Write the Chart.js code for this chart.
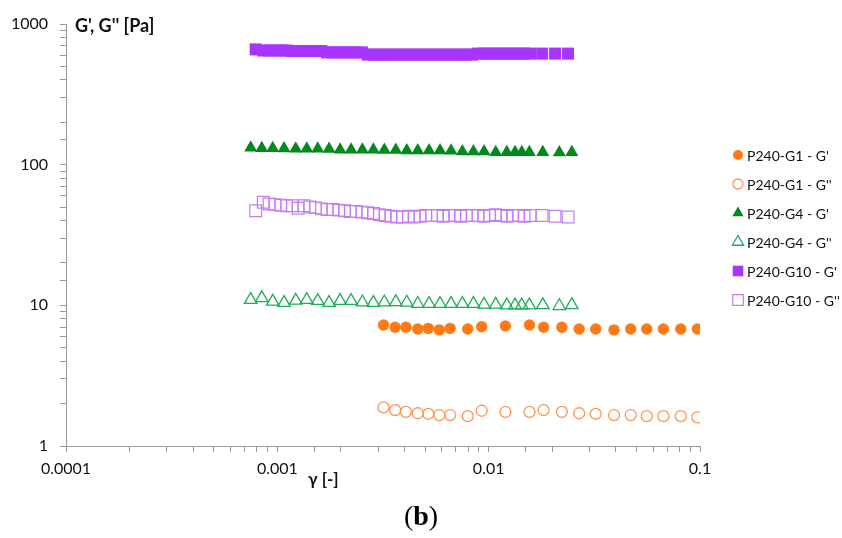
<!DOCTYPE html>
<html>
<head>
<meta charset="utf-8">
<script src="https://cdn.jsdelivr.net/npm/chart.js"></script>
<style>
  html, body { margin: 0; padding: 0; background: #fff; }
  #wrap { width: 842px; height: 538px; position: relative; }
</style>
</head>
<body>
<div id="wrap"><canvas id="mainChart"></canvas></div>
<script>
// strain sweep: G' and G'' vs strain amplitude, log-log

const seriesLabels = ["P240-G1 - G'", "P240-G1 - G''", "P240-G4 - G'", "P240-G4 - G''", "P240-G10 - G'", "P240-G10 - G''"];
const xTickLabels = ['0.0001', '0.001', '0.01', '0.1'];
const yTickLabels = ['1', '10', '100', '1000'];

// P240-G1
const xG1 = [0.00318, 0.00361, 0.00406, 0.00462, 0.00518, 0.00584, 0.00657, 0.00796, 0.00927, 0.0120,
  0.0156, 0.0182, 0.0222, 0.0268, 0.0321, 0.0392, 0.0470, 0.0560, 0.0671, 0.0811, 0.0972];
const g1Storage = [7.24, 6.98, 6.98, 6.79, 6.86, 6.69, 6.86, 6.79, 7.05, 7.13,
  7.24, 6.98, 6.98, 6.79, 6.79, 6.69, 6.79, 6.79, 6.79, 6.79, 6.79];
const g1Loss = [1.88, 1.80, 1.75, 1.71, 1.69, 1.66, 1.66, 1.63, 1.78, 1.75,
  1.75, 1.80, 1.75, 1.71, 1.69, 1.66, 1.66, 1.63, 1.63, 1.63, 1.60];

// P240-G4
const xG4 = [0.000748, 0.000844, 0.000951, 0.001076, 0.001222, 0.001378, 0.001553, 0.001757, 0.001981, 0.002233,
  0.002526, 0.002847, 0.003209, 0.003634, 0.004096, 0.004617, 0.005223, 0.005888, 0.006637, 0.007506,
  0.008465, 0.009511, 0.0108, 0.01218, 0.01333, 0.01434, 0.01558, 0.01803, 0.0216, 0.02474];
const g4Storage = [132, 131, 131, 130.5, 129.5, 129.5, 129.5, 129, 127.5, 127.5,
  127.5, 127.5, 127, 127, 126, 126, 126, 126, 125.5, 124,
  124, 124, 122.5, 122.5, 122.5, 122.5, 122.5, 122.5, 122, 122.5];
const g4Loss = [10.94, 11.27, 10.64, 10.42, 10.82, 10.94, 10.76, 10.42, 10.76, 10.76,
  10.52, 10.42, 10.52, 10.55, 10.48, 10.27, 10.25, 10.25, 10.25, 10.25,
  10.25, 10.13, 10.13, 10.0, 10.0, 10.0, 10.0, 10.05, 9.9, 10.05];

// P240-G10
const xG10 = [0.000790, 0.000858, 0.000914, 0.000974, 0.001038, 0.001105, 0.001177, 0.001254, 0.001336, 0.001423,
  0.001516, 0.001615, 0.00172, 0.001833, 0.001952, 0.00208, 0.002215, 0.00236, 0.002514, 0.002678,
  0.002852, 0.003039, 0.003237, 0.003448, 0.003673, 0.003913, 0.004169, 0.004441, 0.00473, 0.005039,
  0.005368, 0.005718, 0.006092, 0.006489, 0.006913, 0.007364, 0.007845, 0.008357, 0.008902, 0.00948,
  0.0101, 0.01076, 0.01146, 0.01221, 0.0130, 0.01385, 0.01471, 0.0157, 0.0179, 0.02062, 0.02375];
const g10Storage = [660, 648, 648, 648, 648, 648, 642, 642, 642, 642,
  642, 642, 628, 628, 628, 628, 628, 628, 628, 606,
  606, 606, 606, 606, 606, 606, 606, 606, 606, 606,
  606, 606, 606, 606, 606, 606, 606, 606, 616, 616,
  616, 616, 616, 616, 616, 616, 616, 616, 616, 616, 616];
const g10Loss = [47, 54, 52.5, 52, 51.5, 51, 51, 49, 51, 50,
  49.5, 48.5, 48, 48, 47.5, 47, 46.5, 46.5, 46, 45.5,
  45, 44, 43.5, 43, 42.5, 42.5, 43, 42.5, 43, 43.5,
  43.5, 43.5, 43, 43.5, 43.5, 43, 43.5, 43.5, 43.5, 43,
  43.5, 44, 43.5, 43, 43.5, 43.5, 43, 43.5, 43.5, 43, 42.5];

function toPoints(xs, ys) {
  return xs.map((x, i) => ({ x: x, y: ys[i] }));
}

const textColor = '#111111';
const axisColor = '#9a9a9a';

function isDecade(v) {
  const l = Math.log10(v);
  return Math.abs(l - Math.round(l)) < 1e-6;
}

// markers for the legend on the right
function drawMarker(ctx, style, x, y, r, fill, stroke, lw) {
  ctx.beginPath();
  if (style === 'circle') {
    ctx.arc(x, y, r, 0, Math.PI * 2);
  } else if (style === 'triangle') {
    ctx.moveTo(x, y - r);
    ctx.lineTo(x + r * 0.866, y + r * 0.5);
    ctx.lineTo(x - r * 0.866, y + r * 0.5);
    ctx.closePath();
  } else {
    const s = r * Math.SQRT1_2;
    ctx.rect(x - s, y - s, 2 * s, 2 * s);
  }
  if (fill && fill !== 'rgba(0,0,0,0)') {
    ctx.fillStyle = fill;
    ctx.fill();
  }
  if (lw > 0) {
    ctx.lineWidth = lw;
    ctx.strokeStyle = stroke;
    ctx.stroke();
  }
}

const extrasPlugin = {
  id: 'extras',
  afterDraw(chart) {
    const ctx = chart.ctx;
    const area = chart.chartArea;
    ctx.save();
    // axis titles
    ctx.fillStyle = textColor;
    ctx.textBaseline = 'middle';
    ctx.textAlign = 'left';
    ctx.font = 'bold 18px Lato';
    ctx.fillText("G', G'' [Pa]", area.left + 9, area.top + 2);
    ctx.font = 'bold 17px Lato';
    ctx.fillText('\u03b3 [-]', 308, 480);

    // legend
    const legendR = { circle: 5, triangle: 6.5, rect: 7.5 };
    chart.data.datasets.forEach((ds, i) => {
      const y = 155 + i * 29;
      drawMarker(ctx, ds.pointStyle, 738, y, legendR[ds.pointStyle], ds.backgroundColor, ds.borderColor, ds.borderWidth);
      ctx.fillStyle = textColor;
      ctx.font = '14px Lato';
      ctx.textAlign = 'left';
      ctx.fillText(ds.label, 747, y + 1);
    });

    // panel letter
    const parts = [['(', '28px "Liberation Serif"'], ['b', 'bold 28px "Liberation Serif"'], [')', '28px "Liberation Serif"']];
    let total = 0;
    parts.forEach(p => { ctx.font = p[1]; total += ctx.measureText(p[0]).width; });
    let px = 421 - total / 2;
    ctx.fillStyle = '#000';
    ctx.textBaseline = 'alphabetic';
    parts.forEach(p => {
      ctx.font = p[1];
      ctx.fillText(p[0], px, 525);
      px += ctx.measureText(p[0]).width;
    });
    ctx.restore();
  }
};

const ctx = document.getElementById('mainChart').getContext('2d');
window.mainChart = new Chart(ctx, {
  type: 'scatter',
  data: {
    datasets: [
      { label: seriesLabels[0], data: toPoints(xG1, g1Storage), pointStyle: 'circle', pointRadius: 5.7,
        backgroundColor: '#ff7a14', borderColor: '#ff7a14', borderWidth: 0 },
      { label: seriesLabels[1], data: toPoints(xG1, g1Loss), pointStyle: 'circle', pointRadius: 5.5,
        backgroundColor: 'rgba(0,0,0,0)', borderColor: '#ff9455', borderWidth: 1.3 },
      { label: seriesLabels[2], data: toPoints(xG4, g4Storage), pointStyle: 'triangle', pointRadius: 7.5,
        backgroundColor: '#008a1c', borderColor: '#008a1c', borderWidth: 0 },
      { label: seriesLabels[3], data: toPoints(xG4, g4Loss), pointStyle: 'triangle', pointRadius: 7.2,
        backgroundColor: 'rgba(0,0,0,0)', borderColor: '#1fae58', borderWidth: 1.3 },
      { label: seriesLabels[4], data: toPoints(xG10, g10Storage), pointStyle: 'rect', pointRadius: 8.5,
        backgroundColor: '#a834ff', borderColor: '#a834ff', borderWidth: 0 },
      { label: seriesLabels[5], data: toPoints(xG10, g10Loss), pointStyle: 'rect', pointRadius: 8.3,
        backgroundColor: 'rgba(0,0,0,0)', borderColor: '#c47cf5', borderWidth: 1.2 }
    ]
  },
  options: {
    responsive: true,
    maintainAspectRatio: false,
    animation: false,
    layout: { padding: { top: 24, right: 142, bottom: 0, left: 0 } },
    plugins: {
      legend: { display: false },
      tooltip: { enabled: false },
      title: { display: false }
    },
    scales: {
      x: {
        type: 'logarithmic',
        min: 0.0001,
        max: 0.1,
        afterFit(scale) { scale.height = 92; },
        grid: { display: true, drawOnChartArea: false, drawTicks: true, tickLength: 6, color: axisColor, lineWidth: 1 },
        border: { display: true, color: axisColor, width: 1 },
        ticks: {
          autoSkip: false,
          maxRotation: 0,
          padding: 7,
          color: textColor,
          font: { family: 'Lato', size: 16 },
          callback: v => isDecade(v) ? xTickLabels[Math.round(Math.log10(v)) + 4] : ''
        }
      },
      y: {
        type: 'logarithmic',
        min: 1,
        max: 1000,
        afterFit(scale) { scale.width = 66; },
        grid: { display: true, drawOnChartArea: false, drawTicks: true, tickLength: 6, color: axisColor, lineWidth: 1 },
        border: { display: true, color: axisColor, width: 1 },
        ticks: {
          autoSkip: false,
          padding: 12,
          color: textColor,
          font: { family: 'Lato', size: 16 },
          callback: v => isDecade(v) ? yTickLabels[Math.round(Math.log10(v))] : ''
        }
      }
    }
  },
  plugins: [extrasPlugin]
});
</script>
</body>
</html>
